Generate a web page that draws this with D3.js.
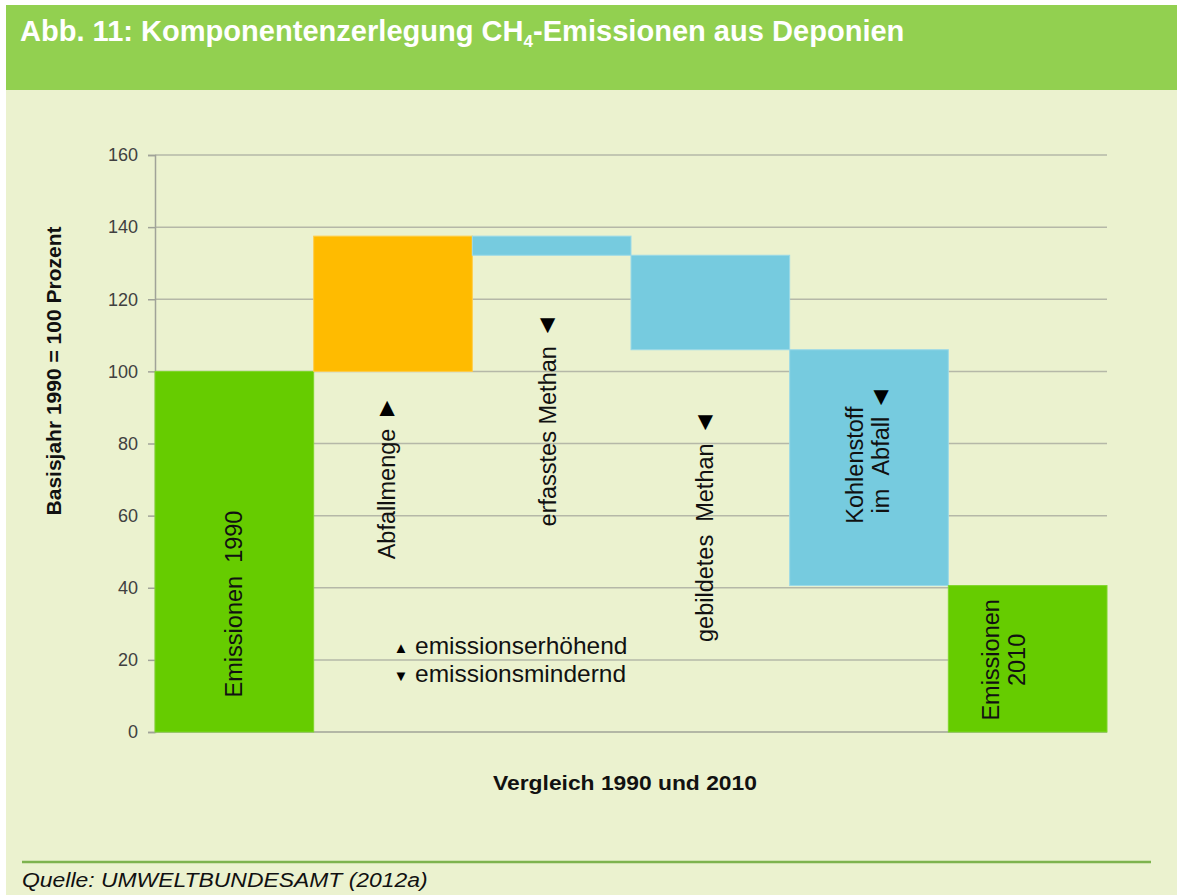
<!DOCTYPE html>
<html>
<head>
<meta charset="utf-8">
<script src="https://cdn.jsdelivr.net/npm/d3@7"></script>
<style>
  body { margin: 0; background: #fff; }
  svg { display: block; }
  text { font-family: "Liberation Sans", Arial, sans-serif; }
</style>
</head>
<body>
<svg id="chart" width="1177" height="895"></svg>
<script>
/* data */
const categories = ["Emissionen 1990", "Abfallmenge", "erfasstes Methan",
  "gebildetes Methan", "Kohlenstoff im Abfall", "Emissionen 2010"];
// change per step, first is start value, last is the total
const changes = [100, 37.5, -5.3, -26.2, -65.4];
const kinds = ["total", "up", "down", "down", "down", "total"];
const yTicks = [0, 20, 40, 60, 80, 100, 120, 140, 160];

const colors = { total: "#66CC00", up: "#FFBB00", down: "#76CBDF" };
const strokes = { total: "#7fd62a", up: "#ffcd4a", down: "#9bd9e8" };

/* build steps */
let run = 0;
let steps = categories.map((c, i) => {
  if (i == 0) { run = changes[0]; return { c, lo: 0, hi: run, kind: kinds[i] }; }
  if (i == categories.length - 1) return { c, lo: 0, hi: run, kind: kinds[i] };
  let prev = run;
  run += changes[i];
  return { c, lo: Math.min(prev, run), hi: Math.max(prev, run), kind: kinds[i] };
});

const svg = d3.select("#chart");

// background + header
svg.append("rect").attr("x", 6).attr("y", 5).attr("width", 1171).attr("height", 890)
  .attr("fill", "#EBF2CF");
svg.append("rect").attr("x", 6).attr("y", 5).attr("width", 1171).attr("height", 85)
  .attr("fill", "#92D050");

function fitWidth(sel, w, x0) {
  let len = sel.node().getComputedTextLength();
  let s = w / len;
  sel.attr("transform", "translate(" + x0 + ",0) scale(" + s + ",1) translate(" + (-x0) + ",0)");
}

let title = svg.append("text").attr("x", 20).attr("y", 41)
  .attr("fill", "#fff").attr("font-weight", "bold").attr("font-size", 29);
title.append("tspan").text("Abb. 11: Komponentenzerlegung CH");
title.append("tspan").text("4").attr("font-size", 17).attr("dy", 6);
title.append("tspan").text("-Emissionen aus Deponien").attr("dy", -6);
fitWidth(title, 885, 20);

/* scales */
const x = d3.scaleBand().domain(categories).range([155, 1107]).padding(0);
const y = d3.scaleLinear().domain([0, 160]).range([732, 155]);

// grid
svg.append("g").selectAll("line").data(yTicks).enter()
  .append("line")
  .attr("x1", 155).attr("x2", 1107)
  .attr("y1", d => y(d)).attr("y2", d => y(d))
  .attr("stroke", d => d == 0 ? "#A0A398" : "#B5B8A8").attr("stroke-width", 1.5);

// y axis
let yAxis = svg.append("g").attr("transform", "translate(155,0)")
  .call(d3.axisLeft(y).tickValues(yTicks).tickSize(7).tickPadding(10));
yAxis.select(".domain").attr("stroke", "#A0A398").attr("stroke-width", 1.5);
yAxis.selectAll(".tick line").attr("stroke", "#A0A398").attr("stroke-width", 1.5);
yAxis.selectAll(".tick text").attr("fill", "#404040").attr("font-size", 18)
  .attr("font-family", "'Liberation Sans', Arial, sans-serif");

// bars
svg.append("g").selectAll("rect").data(steps).enter()
  .append("rect")
  .attr("x", d => x(d.c))
  .attr("width", x.bandwidth())
  .attr("y", d => y(d.hi))
  .attr("height", d => y(d.lo) - y(d.hi))
  .attr("fill", d => colors[d.kind])
  .attr("stroke", d => strokes[d.kind]).attr("stroke-width", 1);

/* rotated labels: [category, lines, offset px from band center, value at text center, arrow] */
const labels = [
  [categories[0], ["Emissionen\u00a0\u00a01990"], 0, 35.5, null],
  [categories[1], ["Abfallmenge"], -6, 66, "▲"],
  [categories[2], ["erfasstes Methan"], -4, 82, "▼"],
  [categories[3], ["gebildetes\u00a0\u00a0Methan"], -5, 52.5, "▼"],
  [categories[4], ["Kohlenstoff", "im\u00a0\u00a0Abfall"], -1, 74, "▼"],
  [categories[5], ["Emissionen", "2010"], -24, 20, null]
];

const lab = svg.append("g");
labels.forEach(([c, lines, off, v, arrow]) => {
  let cx = x(c) + x.bandwidth() / 2 + off;
  let cy = y(v);
  let t = lab.append("text")
    .attr("transform", "translate(" + cx + "," + cy + ") rotate(-90)")
    .attr("text-anchor", "middle")
    .attr("font-size", 23.5).attr("fill", "#111");
  let n = lines.length;
  lines.forEach((l, k) => {
    t.append("tspan").attr("x", 0)
      .attr("y", (k - (n - 1) / 2) * 26 + 8)
      .text(l);
  });
  if (arrow) {
    let w = t.node().getBBox().width;
    let ax = cx + ((n - 1) / 2) * 26;
    let ay = cy - w / 2 - 22;
    if (n > 1) ay += 12;
    lab.append("text").attr("x", ax).attr("y", ay + 9)
      .attr("text-anchor", "middle").attr("font-size", 26).attr("fill", "#000")
      .text(arrow);
  }
});

// legend
const legend = [["▲", "emissionserhöhend"], ["▼", "emissionsmindernd"]];
let lg = svg.append("g");
legend.forEach(([s, t], i) => {
  lg.append("text").attr("x", 401).attr("y", 653 + i * 28)
    .attr("text-anchor", "middle").attr("font-size", 15).text(s);
  lg.append("text").attr("x", 415).attr("y", 654 + i * 28)
    .attr("font-size", 24.5).attr("fill", "#111").text(t);
});

// axis titles
svg.append("text")
  .attr("transform", "translate(61," + 371 + ") rotate(-90)")
  .attr("text-anchor", "middle").attr("font-weight", "bold").attr("font-size", 21)
  .attr("fill", "#111")
  .text("Basisjahr 1990 = 100 Prozent");

let xt = svg.append("text").attr("x", 625).attr("y", 790)
  .attr("text-anchor", "middle").attr("font-weight", "bold").attr("font-size", 21)
  .attr("fill", "#111")
  .text("Vergleich 1990 und 2010");
fitWidth(xt, 264, 625);

// source
svg.append("line").attr("x1", 22).attr("x2", 1151).attr("y1", 862).attr("y2", 862)
  .attr("stroke", "#7DB34E").attr("stroke-width", 2.5);
let src = svg.append("text").attr("x", 22).attr("y", 887)
  .attr("font-style", "italic").attr("font-size", 21).attr("fill", "#111")
  .text("Quelle: UMWELTBUNDESAMT (2012a)");
fitWidth(src, 406, 22);
</script>
</body>
</html>
